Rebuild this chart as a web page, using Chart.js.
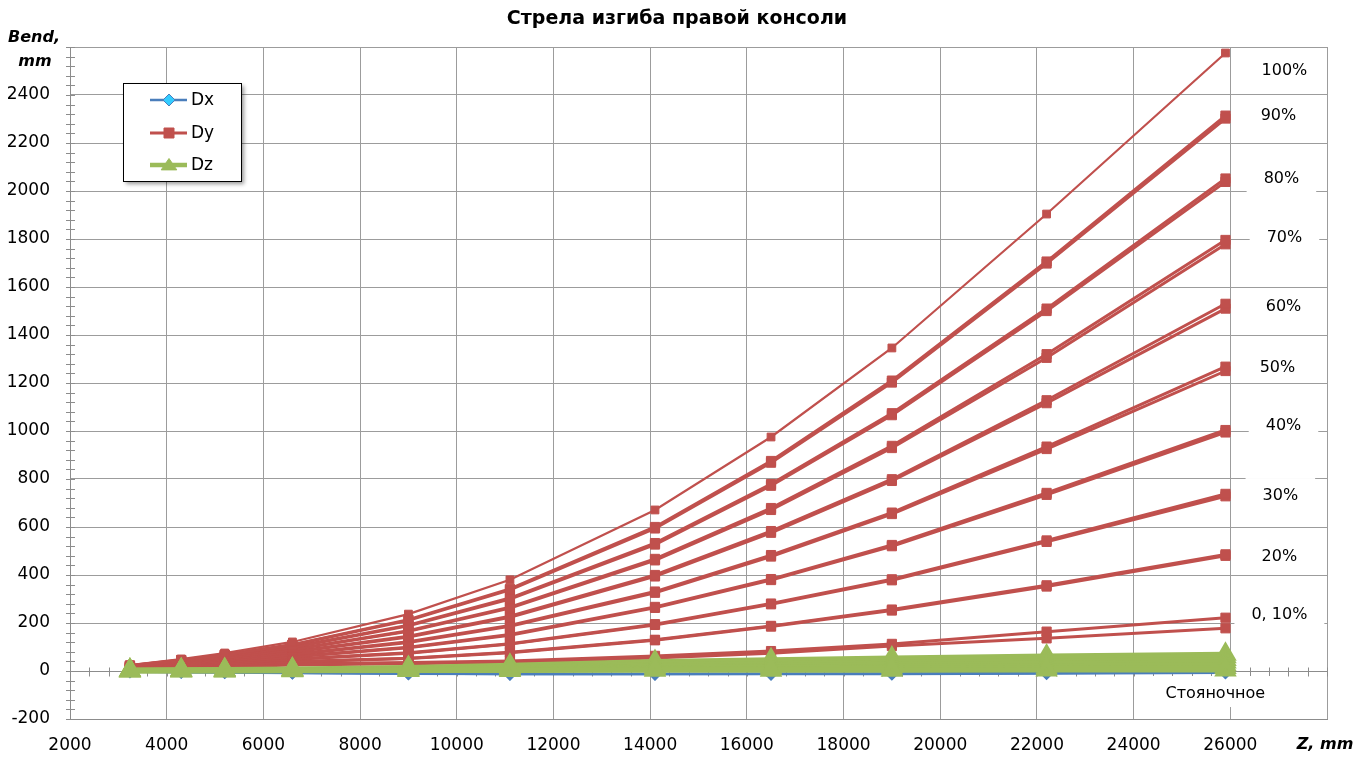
<!DOCTYPE html>
<html lang="ru">
<head>
<meta charset="utf-8">
<title>Стрела изгиба правой консоли</title>
<script src="https://cdn.jsdelivr.net/npm/chart.js@4.4.1/dist/chart.umd.min.js"></script>
<style>
  html, body { margin: 0; padding: 0; background: #fff; }
  #wrap { position: relative; width: 1371px; height: 757px; }
</style>
</head>
<body>
<div id="wrap"><canvas id="chart-bend"></canvas></div>
<script>
// Z stations along the wing, mm
const zPos = [3240, 4300, 5200, 6600, 9000, 11100, 14100, 16500, 19000, 22200, 25900];

// Dy (vertical bend), mm - one row per calculation run for each load level
const dy100 = [[25, 50, 75, 121, 237, 380, 671, 975, 1346, 1904, 2575]];
const dy90 = [
  [23, 46, 68, 110, 214, 342, 600, 875, 1210, 1706, 2314],
  [22, 45, 67, 108, 211, 338, 594, 868, 1202, 1698, 2302]
];
const dy80 = [
  [21, 42, 62, 100, 191, 304, 533, 779, 1074, 1510, 2052],
  [20, 41, 61, 98, 188, 300, 527, 772, 1066, 1500, 2038]
];
const dy70 = [
  [19, 38, 56, 90, 168, 266, 467, 679, 938, 1320, 1796],
  [18, 37, 55, 88, 165, 262, 461, 671, 929, 1305, 1778]
];
const dy60 = [
  [17, 34, 50, 80, 145, 228, 400, 583, 799, 1128, 1530],
  [16, 33, 49, 78, 142, 224, 394, 576, 792, 1116, 1510]
];
const dy50 = [
  [15, 30, 44, 70, 122, 190, 331, 483, 660, 935, 1268],
  [14, 29, 43, 68, 119, 186, 326, 477, 654, 925, 1250]
];
const dy40 = [
  [13, 26, 38, 60, 99, 152, 267, 383, 525, 742, 1004],
  [12, 25, 37, 58, 97, 149, 263, 379, 520, 734, 994]
];
const dy30 = [
  [11, 22, 32, 50, 76, 114, 195, 281, 382, 544, 738],
  [10, 21, 31, 48, 74, 112, 192, 278, 378, 538, 728]
];
const dy20 = [
  [9, 18, 26, 40, 53, 78, 130, 188, 256, 357, 486],
  [8, 17, 25, 38, 52, 76, 128, 185, 252, 352, 480]
];
const dy10 = [[7, 14, 20, 30, 35, 42, 63, 83, 113, 164, 222]];
const dy0 = [[6, 12, 17, 25, 30, 36, 54, 74, 104, 136, 178]];

// Dz (lateral), mm
const dzRuns = [
  [0, 0, 0, 1, 2, 2, 3, 3, 3, 4, 4],
  [1, 1, 1, 2, 3, 5, 8, 9, 11, 13, 15],
  [1, 2, 2, 3, 5, 8, 14, 16, 19, 22, 26],
  [2, 2, 3, 4, 7, 12, 20, 23, 28, 32, 37],
  [2, 3, 3, 5, 9, 15, 26, 30, 36, 42, 48],
  [3, 4, 4, 6, 12, 19, 33, 39, 45, 52, 59],
  [4, 5, 6, 8, 15, 24, 40, 47, 54, 62, 70]
];

// Dx (longitudinal), mm
const dxRuns = [
  [-2, -4, -5, -7, -10, -12, -12, -11, -10, -8, -5],
  [-3, -5, -6, -8, -11, -13, -13, -13, -12, -10, -7]
];

// load level captions at the right edge (value coordinates)
const loadLabels = ['100%', '90%', '80%', '70%', '60%', '50%', '40%', '30%', '20%', '0, 10%', 'Стояночное'];
const loadLabelX = [27120, 26995, 27057, 27120, 27100, 26975, 27100, 27035, 27015, 27015, 25690];
const loadLabelY = [2500, 2312, 2050, 1804, 1517, 1262, 1021, 729, 475, 233, -96];

const FONT = '"DejaVu Sans", Verdana, sans-serif';
const C_DX = '#4a7ebb';
const C_DY = '#c0504d';
const C_DZ = '#9bbb59';

function series(vals) {
  return vals.map((v, i) => ({ x: zPos[i], y: v }));
}

function buildDatasets() {
  const out = [];
  dxRuns.forEach((r) => out.push({
    label: 'Dx', data: series(r), order: 3,
    borderColor: C_DX, borderWidth: 2.5,
    pointStyle: 'rectRot', pointRadius: 5, pointBackgroundColor: C_DX, pointBorderColor: C_DX
  }));
  const dyRuns = [].concat(dy100, dy90, dy80, dy70, dy60, dy50, dy40, dy30, dy20, dy10, dy0);
  dyRuns.forEach((r, i) => out.push({
    label: 'Dy', data: series(r), order: 2,
    borderColor: C_DY, borderWidth: i === 0 ? 2.2 : 3,
    pointStyle: 'rect', pointRadius: i === 0 ? 5.5 : 6.5,
    pointBackgroundColor: C_DY, pointBorderColor: C_DY, pointBorderWidth: 1
  }));
  dzRuns.forEach((r) => out.push({
    label: 'Dz', data: series(r), order: 1,
    borderColor: C_DZ, borderWidth: 5,
    pointStyle: 'triangle', pointRadius: 8, pointBackgroundColor: C_DZ, pointBorderColor: C_DZ
  }));
  return out;
}

function marker(ctx, style, x, y, r, fill, stroke) {
  ctx.beginPath();
  if (style === 'rectRot') {
    ctx.moveTo(x, y - r); ctx.lineTo(x + r, y); ctx.lineTo(x, y + r); ctx.lineTo(x - r, y);
  } else if (style === 'rect') {
    ctx.rect(x - r, y - r, 2 * r, 2 * r);
  } else {
    ctx.moveTo(x, y - r); ctx.lineTo(x + r * 1.2, y + r * 0.75); ctx.lineTo(x - r * 1.2, y + r * 0.75);
  }
  ctx.closePath();
  ctx.fillStyle = fill;
  ctx.fill();
  ctx.strokeStyle = stroke;
  ctx.lineWidth = 1;
  ctx.stroke();
}

const decorPlugin = {
  id: 'decor',
  beforeDatasetsDraw(chart) {
    const { ctx, chartArea: a, scales: { x, y } } = chart;
    ctx.save();
    // minor ticks on the vertical axis
    ctx.strokeStyle = '#8c8c8c';
    ctx.lineWidth = 1;
    ctx.beginPath();
    for (let v = -200; v <= 2600; v += 40) {
      const py = Math.round(y.getPixelForValue(v)) + 0.5;
      ctx.moveTo(a.left - 4, py);
      ctx.lineTo(a.left + 5, py);
    }
    // minor ticks on the horizontal axis line at zero
    const y0 = Math.round(y.getPixelForValue(0)) + 0.5;
    for (let v = 2000; v <= 28000; v += 400) {
      const px = Math.round(x.getPixelForValue(v)) + 0.5;
      ctx.moveTo(px, y0 - 4);
      ctx.lineTo(px, y0 + 5);
    }
    ctx.moveTo(a.left, y0);
    ctx.lineTo(a.right, y0);
    ctx.stroke();

    // load level captions on white boxes
    ctx.font = '16px ' + FONT;
    ctx.textAlign = 'center';
    ctx.textBaseline = 'middle';
    loadLabels.forEach((t, i) => {
      const cx = x.getPixelForValue(loadLabelX[i]);
      const cy = y.getPixelForValue(loadLabelY[i]);
      const w = ctx.measureText(t).width + 34;
      ctx.fillStyle = '#fff';
      ctx.fillRect(cx - w / 2, cy - 18, w, 31);
      ctx.fillStyle = '#000';
      ctx.fillText(t, cx, cy);
    });
    ctx.restore();
  },
  afterDraw(chart) {
    const { ctx } = chart;
    ctx.save();
    ctx.fillStyle = '#000';
    ctx.textAlign = 'center';
    ctx.textBaseline = 'middle';
    ctx.font = 'bold 19px ' + FONT;
    ctx.fillText('Стрела изгиба правой консоли', 677, 19);

    ctx.font = 'italic bold 16px ' + FONT;
    ctx.fillText('Bend,', 34, 38);
    ctx.fillText('mm', 35, 62);
    ctx.fillText('Z, mm', 1325, 745);

    // legend box
    const bx = 123, by = 83, bw = 118, bh = 98;
    ctx.save();
    ctx.shadowColor = 'rgba(0,0,0,0.4)';
    ctx.shadowBlur = 4;
    ctx.shadowOffsetX = 3;
    ctx.shadowOffsetY = 3;
    ctx.fillStyle = '#fff';
    ctx.fillRect(bx, by, bw, bh);
    ctx.restore();
    ctx.strokeStyle = '#000';
    ctx.lineWidth = 1;
    ctx.strokeRect(bx + 0.5, by + 0.5, bw, bh);

    const items = [
      { t: 'Dx', c: C_DX, w: 2.5, s: 'rectRot', r: 6, f: '#33ccff', y: 100 },
      { t: 'Dy', c: C_DY, w: 3, s: 'rect', r: 5, f: C_DY, y: 133 },
      { t: 'Dz', c: C_DZ, w: 4.5, s: 'triangle', r: 6.5, f: C_DZ, y: 165 }
    ];
    ctx.font = '17px ' + FONT;
    ctx.textAlign = 'left';
    items.forEach((it) => {
      ctx.strokeStyle = it.c;
      ctx.lineWidth = it.w;
      ctx.beginPath();
      ctx.moveTo(150, it.y);
      ctx.lineTo(187, it.y);
      ctx.stroke();
      marker(ctx, it.s, 169, it.y, it.r, it.f, it.s === 'rectRot' ? C_DX : it.c);
      ctx.fillStyle = '#000';
      ctx.fillText(it.t, 191, it.y + 1);
    });
    ctx.restore();
  }
};

function buildChart() {
  const el = document.getElementById('chart-bend');
  return new Chart(el, {
    type: 'scatter',
    data: { datasets: buildDatasets() },
    options: {
      responsive: true,
      maintainAspectRatio: false,
      animation: false,
      showLine: true,
      layout: { padding: { top: 47, right: 44, left: 0, bottom: 0 } },
      plugins: { legend: { display: false }, tooltip: { enabled: false }, title: { display: false } },
      elements: { line: { tension: 0 } },
      scales: {
        x: {
          type: 'linear', min: 2000, max: 28000,
          afterFit: (s) => { s.height = 38; },
          border: { color: '#8c8c8c' },
          grid: { color: '#9c9c9c', drawTicks: false },
          ticks: {
            stepSize: 2000, padding: 16, color: '#000',
            font: { family: FONT, size: 17 },
            callback: (v) => (v === 28000 ? '' : String(v))
          }
        },
        y: {
          type: 'linear', min: -200, max: 2600,
          afterFit: (s) => { s.width = 70; },
          border: { color: '#8c8c8c' },
          grid: { color: '#9c9c9c', drawTicks: false },
          ticks: {
            stepSize: 200, padding: 20, color: '#000',
            font: { family: FONT, size: 17 },
            callback: (v) => (v === 2600 ? '' : String(v))
          }
        }
      }
    },
    plugins: [decorPlugin]
  });
}

buildChart();
</script>
</body>
</html>
